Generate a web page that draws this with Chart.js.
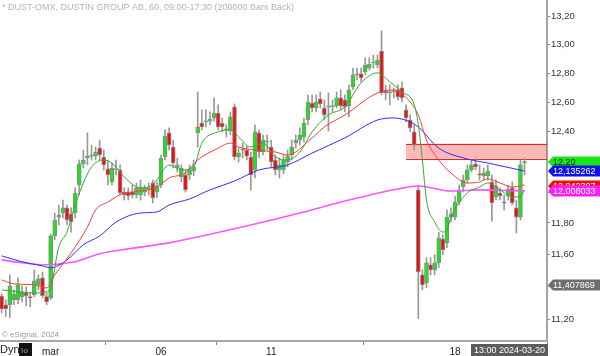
<!DOCTYPE html>
<html><head><meta charset="utf-8">
<style>html,body{margin:0;padding:0;background:#fff;}#wrap{width:600px;height:356px;position:relative;}</style>
<script src="https://cdn.jsdelivr.net/npm/chart.js@4.4.1/dist/chart.umd.min.js"></script>
</head><body><div id="wrap"><canvas id="c" width="600" height="356"></canvas></div>
<script>
// Hourly candles (one entry per bar, oldest first)
const opens  = [11.340,11.287,11.287,11.318,11.318,11.337,11.360,11.337,11.349,11.410,11.453,11.337,11.330,11.718,11.838,11.864,11.897,11.858,11.864,12.046,
12.185,12.224,12.237,12.237,12.290,12.231,12.152,12.066,12.145,12.145,12.000,12.000,12.000,11.981,11.981,12.000,12.020,12.059,12.000,12.046,
12.231,12.392,12.297,12.158,12.099,12.112,12.112,12.138,12.392,12.459,12.466,12.472,12.493,12.527,12.459,12.412,12.405,12.568,12.231,12.277,
12.277,12.231,12.145,12.392,12.264,12.331,12.297,12.211,12.145,12.145,12.198,12.244,12.324,12.344,12.364,12.479,12.595,12.561,12.623,12.561,
12.568,12.568,12.575,12.630,12.616,12.575,12.706,12.789,12.796,12.810,12.837,12.872,12.858,12.956,12.678,12.664,12.671,12.685,12.699,12.548,
12.479,12.399,12.014,11.472,11.422,11.535,11.503,11.547,11.698,11.673,11.838,11.838,11.935,12.033,12.079,12.145,12.185,12.119,12.106,12.106,
12.066,11.968,11.994,11.935,11.975,12.027,11.897,11.838,12.191];
const highs  = [11.355,11.318,11.472,11.379,11.453,11.404,11.398,11.360,11.503,11.472,11.490,11.360,11.730,11.864,11.916,11.948,11.916,11.897,12.027,12.211,
12.277,12.392,12.310,12.297,12.344,12.277,12.211,12.191,12.211,12.178,12.027,12.027,12.046,12.059,12.079,12.046,12.059,12.079,12.066,12.244,
12.412,12.426,12.344,12.224,12.178,12.145,12.178,12.211,12.671,12.548,12.548,12.534,12.630,12.582,12.493,12.446,12.534,12.589,12.290,12.324,
12.304,12.264,12.446,12.412,12.378,12.378,12.344,12.244,12.224,12.244,12.277,12.344,12.378,12.426,12.493,12.650,12.650,12.650,12.671,12.616,
12.664,12.616,12.671,12.685,12.650,12.720,12.837,12.837,12.837,12.907,12.907,12.928,12.928,13.098,12.720,12.720,12.699,12.720,12.741,12.582,
12.513,12.446,12.046,11.503,11.579,11.579,11.598,11.742,11.724,11.884,11.897,11.974,12.046,12.112,12.178,12.211,12.224,12.178,12.158,12.178,
12.112,12.079,12.027,11.981,12.046,12.066,11.948,12.211,12.224];
const lows   = [11.237,11.215,11.209,11.287,11.293,11.305,11.280,11.275,11.337,11.379,11.330,11.287,11.318,11.692,11.787,11.832,11.787,11.742,11.832,11.981,
12.158,12.178,12.211,12.211,12.211,12.145,12.046,12.046,12.112,11.981,11.948,11.948,11.961,11.961,11.948,11.975,11.981,11.929,11.961,12.027,
12.211,12.277,12.158,12.132,12.066,12.000,12.079,12.106,12.297,12.412,12.432,12.446,12.472,12.412,12.399,12.364,12.378,12.211,12.198,12.224,
12.211,12.014,12.092,12.224,12.244,12.277,12.165,12.112,12.092,12.119,12.165,12.211,12.290,12.310,12.331,12.446,12.534,12.534,12.561,12.479,
12.405,12.534,12.561,12.548,12.534,12.500,12.685,12.754,12.741,12.789,12.823,12.837,12.837,12.650,12.616,12.582,12.630,12.616,12.602,12.466,
12.399,12.277,11.203,11.379,11.391,11.472,11.472,11.516,11.598,11.642,11.806,11.819,11.916,12.000,12.059,12.132,12.145,12.079,12.079,12.079,
11.812,11.948,11.948,11.884,11.948,11.916,11.736,11.819,12.112];
const closes = [11.262,11.262,11.404,11.355,11.410,11.367,11.343,11.330,11.435,11.447,11.343,11.305,11.718,11.819,11.851,11.897,11.819,11.806,11.994,12.185,
12.211,12.237,12.244,12.264,12.244,12.178,12.112,12.158,12.152,11.994,11.981,11.975,11.981,12.027,12.033,12.027,12.027,11.961,12.040,12.224,
12.371,12.310,12.191,12.178,12.158,12.014,12.145,12.165,12.432,12.432,12.472,12.486,12.527,12.432,12.432,12.412,12.500,12.231,12.257,12.277,
12.237,12.112,12.399,12.264,12.344,12.337,12.198,12.145,12.178,12.211,12.237,12.297,12.344,12.378,12.459,12.602,12.561,12.602,12.589,12.513,
12.568,12.575,12.630,12.575,12.568,12.685,12.789,12.796,12.768,12.858,12.865,12.872,12.893,12.664,12.664,12.664,12.671,12.637,12.630,12.493,
12.426,12.310,11.490,11.410,11.547,11.503,11.547,11.705,11.629,11.838,11.858,11.935,12.014,12.079,12.145,12.178,12.165,12.112,12.125,12.138,
11.929,12.040,11.975,11.929,12.020,11.929,11.838,12.178,12.200];

// Moving averages: [bar index, price]
const greenMA = [[0,11.379],[4,11.367],[8,11.360],[11,11.367],[12,11.391],[14,11.648],[16,11.742],[18,11.916],[20,12.059],[22,12.165],[25,12.211],[27,12.191],[30,12.099],[34,12.027],[36,12.033],[38,12.079],[41,12.178],[44,12.145],[47,12.165],[49,12.324],[53,12.399],[56,12.412],[58,12.364],[61,12.297],[64,12.324],[67,12.231],[70,12.211],[73,12.264],[76,12.399],[80,12.513],[84,12.568],[88,12.734],[92,12.803],[95,12.741],[98,12.671],[101,12.582],[102,12.446],[103,12.211],[104,11.948],[106,11.806],[108,11.742],[109,11.755],[110,11.838],[114,11.994],[117,12.033],[119,12.059],[122,12.014],[125,11.968],[127,11.968],[128,12.014]];
const redMA = [[0,11.441],[3,11.416],[8,11.410],[11,11.391],[13,11.472],[17,11.610],[21,11.774],[23,11.884],[26,11.935],[30,11.994],[32,12.000],[38,12.033],[41,12.092],[45,12.125],[48,12.211],[53,12.290],[56,12.324],[58,12.297],[62,12.277],[67,12.264],[70,12.244],[76,12.358],[79,12.432],[84,12.513],[92,12.664],[96,12.685],[100,12.602],[102,12.513],[104,12.344],[107,12.211],[110,12.125],[114,12.059],[117,12.066],[119,12.086],[122,12.059],[125,12.033],[128,12.046]];
const blueMA = [[0,11.591],[5,11.554],[10,11.528],[12,11.516],[16,11.566],[20,11.661],[24,11.717],[28,11.806],[34,11.864],[38,11.871],[41,11.916],[46,11.955],[51,12.014],[57,12.072],[63,12.145],[70,12.178],[76,12.257],[84,12.358],[92,12.479],[96,12.493],[100,12.466],[102,12.432],[107,12.290],[114,12.218],[119,12.191],[128,12.138]];
const magentaMA = [[0,11.566],[5,11.548],[11,11.535],[18,11.554],[24,11.604],[31,11.635],[41,11.673],[48,11.711],[61,11.787],[73,11.864],[85,11.948],[97,12.020],[102,12.040],[110,12.007],[117,12.014],[128,12.008]];

// Axis ticks
const dayTickIdx = [12, 39, 66, 111];
const dayTickLabels = ['mar', '06', '11', '18'];
const priceTicks = [11.2, 11.4, 11.6, 11.8, 12.0, 12.2, 12.4, 12.6, 12.8, 13.0, 13.2];

// Right-hand price tags
const tagValues = [12.20, 12.135262, 12.042307, 12.008033, 11.407869];
const tagTexts = ['12,20', '12,135262', '12,042307', '12,008033', '11,407869'];

// Resistance zone
const zoneRange = [12.22, 12.32];
const zoneStartIdx = 99;

const titleText = '* DUST-OMX, DUSTIN GROUP AB, 60, 09:00-17:30 (200000 Bars Back)';
const copyText = '\u00A9 eSignal, 2024';
const cursorText = '13:00 2024-03-20';

// ---- styles ----
const tagFill = ['#19e619', '#1010ee', '#ee1010', '#ff1eff', '#6e6e6e'];
const tagInk = ['#102010', '#ffffff', '#ffffff', '#ffffff', '#ffffff'];
const FONT = '"Liberation Sans", Arial, sans-serif';

const idx = opens.map((_, i) => i);
const bodyData = idx.map(i => ({x: i, y: [opens[i], closes[i]]}));
const wickData = idx.map(i => ({x: i, y: [lows[i], highs[i]]}));
const bodyColors = idx.map(i => closes[i] >= opens[i] ? '#1fe01f' : '#ee1111');
const toPts = arr => arr.map(p => ({x: p[0], y: p[1]}));
const lineDs = (data, color, w) => ({type: 'line', data: toPts(data), borderColor: color, borderWidth: w,
  pointRadius: 0, cubicInterpolationMode: 'monotone', fill: false, order: 0});

const overlay = {
  id: 'overlay',
  beforeDatasetsDraw(chart) {
    const {ctx, chartArea: a, scales: {x, y}} = chart;
    const x0 = x.getPixelForValue(zoneStartIdx);
    const yt = y.getPixelForValue(zoneRange[1]);
    const yb = y.getPixelForValue(zoneRange[0]);
    ctx.save();
    ctx.fillStyle = 'rgba(255,40,40,0.33)';
    ctx.fillRect(x0, yt, a.right - x0, yb - yt);
    ctx.strokeStyle = '#ff1a1a';
    ctx.lineWidth = 1;
    ctx.beginPath();
    ctx.moveTo(x0, Math.round(yt) + 0.5); ctx.lineTo(a.right, Math.round(yt) + 0.5);
    ctx.moveTo(x0, Math.round(yb) + 0.5); ctx.lineTo(a.right, Math.round(yb) + 0.5);
    ctx.stroke();
    ctx.restore();
  },
  afterDraw(chart) {
    const {ctx, chartArea: a, scales: {y}} = chart;
    ctx.save();
    // title & copyright
    ctx.fillStyle = '#b4b4b4';
    ctx.font = '9px ' + FONT;
    ctx.textBaseline = 'middle';
    ctx.fillText(titleText, 2, 8);
    ctx.fillStyle = '#9a9a9a';
    ctx.font = '8px ' + FONT;
    ctx.fillText(copyText, 2, 335);
    // price tags
    ctx.font = '9px ' + FONT;
    tagValues.forEach((v, k) => {
      const py = Math.round(y.getPixelForValue(v));
      const r = a.right;
      ctx.fillStyle = tagFill[k];
      ctx.beginPath();
      ctx.moveTo(r + 1, py);
      ctx.lineTo(r + 6, py - 5.5);
      ctx.lineTo(600, py - 5.5);
      ctx.lineTo(600, py + 5.5);
      ctx.lineTo(r + 6, py + 5.5);
      ctx.closePath();
      ctx.fill();
      ctx.fillStyle = tagInk[k];
      ctx.textAlign = 'left';
      ctx.fillText(tagTexts[k], r + 6, py + 0.5);
    });
    // bottom bar items
    ctx.fillStyle = '#222';
    ctx.font = '11px ' + FONT;
    ctx.fillText('Dyn', 0, 350);
    ctx.fillStyle = '#111';
    ctx.fillRect(19, 343, 13, 13);
    ctx.fillStyle = '#777';
    ctx.font = 'bold 8px ' + FONT;
    ctx.fillText('lo', 21, 351);
    ctx.fillStyle = '#5c5c5c';
    ctx.fillRect(471, 344, a.right + 1 - 471, 12);
    ctx.fillStyle = '#ffffff';
    ctx.font = '9px ' + FONT;
    ctx.fillText(cursorText, 474, 350.5);
    ctx.restore();
  }
};

new Chart(document.getElementById('c'), {
  type: 'bar',
  data: {
    datasets: [
      lineDs(greenMA, '#36a836', 1),
      lineDs(redMA, '#ff3b3b', 1),
      lineDs(blueMA, '#2c2cff', 1),
      lineDs(magentaMA, '#ff55ff', 1.6),
      {label: 'body', data: bodyData, backgroundColor: bodyColors, borderColor: '#8c8c8c', borderWidth: 1,
        borderSkipped: false, barThickness: 4, grouped: false, minBarLength: 1, order: 1},
      {label: 'wick', data: wickData, backgroundColor: '#999999', barThickness: 1, grouped: false, order: 2}
    ]
  },
  options: {
    responsive: false,
    animation: false,
    events: [],
    layout: {padding: 0},
    plugins: {legend: {display: false}, tooltip: {enabled: false}},
    scales: {
      x: {
        type: 'linear', min: -0.4, max: 133.5, offset: false,
        grid: {drawOnChartArea: false, drawTicks: true, tickLength: 4, color: '#8a8a8a'},
        border: {display: true, color: '#a5a5a5', width: 2},
        ticks: {autoSkip: false, maxRotation: 0, padding: 1, color: '#222', font: {size: 10, family: FONT},
          callback: v => { const k = dayTickIdx.indexOf(v); return k >= 0 ? dayTickLabels[k] : ''; }},
        afterBuildTicks: s => { s.ticks = dayTickIdx.map(v => ({value: v})); },
        afterFit: s => { s.height = 15; s.paddingLeft = 0; s.paddingRight = 0; }
      },
      y: {
        type: 'logarithmic', position: 'right', min: 11.067, max: 13.32,
        grid: {drawOnChartArea: false, drawTicks: true, tickLength: 3, color: '#8a8a8a'},
        border: {display: true, color: '#a5a5a5', width: 2},
        ticks: {autoSkip: false, padding: 1, color: '#333', font: {size: 9.5, family: FONT},
          callback: v => Number(v).toFixed(2).replace('.', ',')},
        afterBuildTicks: s => { s.ticks = priceTicks.map(v => ({value: v})); },
        afterFit: s => { s.width = 53; s.paddingTop = 0; s.paddingBottom = 0; }
      }
    }
  },
  plugins: [overlay]
});
</script>
</body></html>
